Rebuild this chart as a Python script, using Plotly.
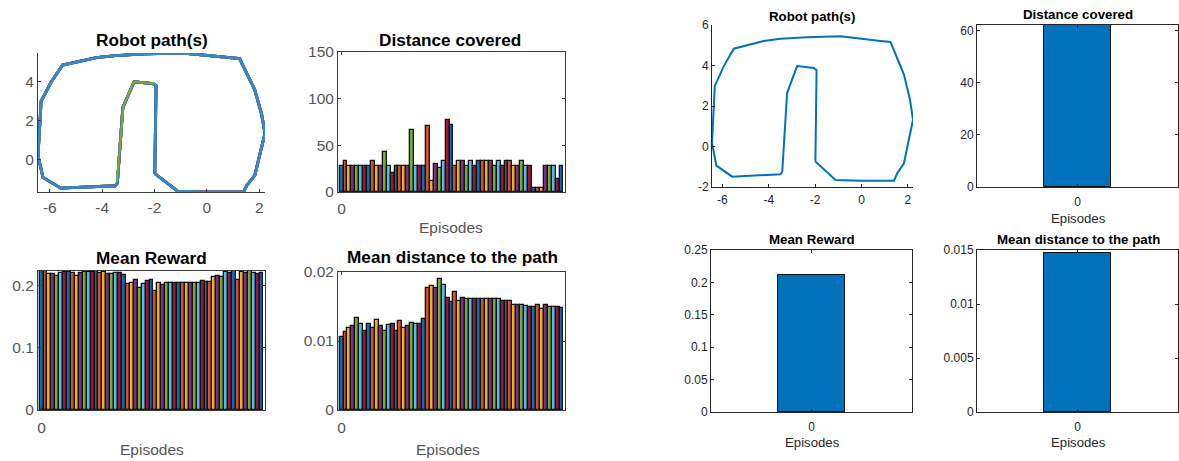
import plotly.graph_objects as go

W, H = 1179, 461
FONT = "Liberation Sans, Arial, Helvetica, sans-serif"

# MATLAB default colour order
palette = ["#0072BD", "#D95319", "#EDB120", "#7E2F8E", "#77AC30", "#4DBEEE", "#A2142F"]

# ---------------- data ----------------
path_x = [-1.99, -1.12, -0.04, 1.40, 1.54, 1.83, 2.04, 2.22, 2.09, 1.83, 1.25, 0.82, -0.91,
          -2.35, -3.50, -4.22, -5.51, -5.94, -6.33, -6.45, -6.26, -5.58, -3.50, -3.42, -3.21,
          -2.78, -2.06, -1.94, -1.99]
path_y = [-0.74, -1.65, -1.69, -1.69, -1.32, -0.83, 0.33, 1.32, 2.31, 3.55, 5.16, 5.21, 5.45,
          5.40, 5.32, 5.21, 4.83, 3.97, 2.98, 0.17, -0.94, -1.49, -1.37, -1.24, 2.64,
          3.97, 3.88, 3.77, -0.74]
# another episode's path that differs slightly along the left side of the pillar
pillar_x = [-3.44, -3.18, -2.80, -1.97]
pillar_y = [-1.12, 2.72, 3.97, 3.88]

distance_covered = [27.5, 33.6, 27.5, 27.5, 27.5, 27.5, 27.5, 27.5, 33.6, 27.5, 27.5, 43, 27.5, 20,
                    27.5, 27.5, 27.5, 27.5, 66, 27.5, 27.5, 27.5, 71, 12, 29.6, 26, 33.6, 77.5,
                    72, 27.5, 33.6, 33.6, 27.5, 33.6, 27.5, 33.6, 33.6, 33.6, 33.6, 27.5, 33.6,
                    27.5, 33.6, 33.6, 27.5, 27.5, 33.6, 27.5, 27.5, 4.6, 4, 4, 27.5, 27.5, 27.5,
                    14, 27.5]
mean_reward = [0.2235, 0.2235, 0.219, 0.219, 0.216, 0.221, 0.223, 0.223, 0.221, 0.216, 0.221,
               0.222, 0.222, 0.222, 0.224, 0.221, 0.222, 0.219, 0.219, 0.221, 0.221, 0.218,
               0.2027, 0.205, 0.209, 0.197, 0.2027, 0.2075, 0.209, 0.191, 0.205, 0.2016, 0.205,
               0.205, 0.205, 0.205, 0.205, 0.205, 0.204, 0.205, 0.205, 0.2086, 0.207, 0.207,
               0.214, 0.2166, 0.214, 0.222, 0.2204, 0.2236, 0.210, 0.222, 0.2204, 0.2236,
               0.2204, 0.2193, 0.2204]
mean_path_distance = [0.01058, 0.01126, 0.01184, 0.01223, 0.01335, 0.01248, 0.0115, 0.01252,
                      0.0119, 0.0131, 0.01214, 0.0115, 0.01228, 0.01248, 0.0114, 0.01296,
                      0.01184, 0.01223, 0.01267, 0.01248, 0.01248, 0.01316, 0.01772, 0.01791,
                      0.01772, 0.01893, 0.01811, 0.01626, 0.01563, 0.01709, 0.01587, 0.01626,
                      0.01602, 0.01602, 0.01602, 0.01602, 0.01602, 0.01602, 0.01602, 0.01602,
                      0.01602, 0.01587, 0.01587, 0.01587, 0.0152, 0.0152, 0.0152, 0.01505,
                      0.01495, 0.01495, 0.0152, 0.01471, 0.0152, 0.01495, 0.01495, 0.01495,
                      0.0148]

single_episode = [0]
single_distance = [62.3]
single_reward = [0.211]
single_path_distance = [0.0147]

episodes = list(range(len(distance_covered)))
bar_colors = [palette[i % len(palette)] for i in episodes]

path_ticks = [-6, -4, -2, 0, 2]
path_tick_text = ["-6", "-4", "-2", "0", "2"]
path_yticks_right = [-2, 0, 2, 4, 6]
path_ytick_text_right = ["-2", "0", "2", "4", "6"]
path_yticks_left = [0, 2, 4]
dist_ticks_left = [0, 50, 100, 150]
reward_ticks_left = [0, 0.1, 0.2]
pathdist_ticks_left = [0, 0.01, 0.02]
dist_ticks_right = [0, 20, 40, 60]
reward_ticks_right = [0, 0.05, 0.1, 0.15, 0.2, 0.25]
reward_text_right = ["0", "0.05", "0.1", "0.15", "0.2", "0.25"]
pathdist_ticks_right = [0, 0.005, 0.01, 0.015]
pathdist_text_right = ["0", "0.005", "0.01", "0.015"]

# ---------------- figure ----------------
fig = go.Figure()

# left figure: robot paths (several episodes overlapping)
for c in palette[1:]:
    fig.add_trace(go.Scatter(x=path_x, y=path_y, mode="lines", line=dict(color=c, width=2.8),
                             xaxis="x", yaxis="y", showlegend=False, hoverinfo="skip"))
fig.add_trace(go.Scatter(x=path_x, y=path_y, mode="lines", line=dict(color="#2f8ad0", width=2.8),
                         xaxis="x", yaxis="y", showlegend=False))
fig.add_trace(go.Scatter(x=pillar_x, y=pillar_y, mode="lines", line=dict(color="#77AC30", width=2),
                         xaxis="x", yaxis="y", showlegend=False))

bar_line = dict(color="#111111", width=1.3)
fig.add_trace(go.Bar(x=episodes, y=distance_covered, width=1,
                     marker=dict(color=bar_colors, line=bar_line),
                     xaxis="x2", yaxis="y2", showlegend=False))
fig.add_trace(go.Bar(x=episodes, y=mean_reward, width=1,
                     marker=dict(color=bar_colors, line=bar_line),
                     xaxis="x3", yaxis="y3", showlegend=False))
fig.add_trace(go.Bar(x=episodes, y=mean_path_distance, width=1,
                     marker=dict(color=bar_colors, line=bar_line),
                     xaxis="x4", yaxis="y4", showlegend=False))

# right figure
fig.add_trace(go.Scatter(x=path_x, y=path_y, mode="lines", line=dict(color="#0072BD", width=2),
                         xaxis="x5", yaxis="y5", showlegend=False))
single_line = dict(color="#111111", width=1)
fig.add_trace(go.Bar(x=single_episode, y=single_distance, width=0.8,
                     marker=dict(color="#0072BD", line=single_line),
                     xaxis="x6", yaxis="y6", showlegend=False))
fig.add_trace(go.Bar(x=single_episode, y=single_reward, width=0.8,
                     marker=dict(color="#0072BD", line=single_line),
                     xaxis="x7", yaxis="y7", showlegend=False))
fig.add_trace(go.Bar(x=single_episode, y=single_path_distance, width=0.8,
                     marker=dict(color="#0072BD", line=single_line),
                     xaxis="x8", yaxis="y8", showlegend=False))


def xd(l, r):
    return [l / W, r / W]


def yd(t, b):
    return [1 - b / H, 1 - t / H]


LCOL = "#3a3a3a"
LTXT = "#555555"
RCOL = "#262626"


def ax(domain, anchor, left_style, box, **kw):
    col = LCOL if left_style else RCOL
    d = dict(domain=domain, anchor=anchor, showline=True, linecolor=col, linewidth=1,
             mirror="ticks" if box else False, ticks="inside", ticklen=3, tickcolor=col,
             showgrid=False, zeroline=False, fixedrange=True, automargin=False,
             tickfont=dict(family=FONT, size=15.5 if left_style else 12,
                           color=LTXT if left_style else RCOL))
    d.update(kw)
    return d


N = len(episodes)
pad = 0.4
bar_range = [-0.5 - pad, N - 0.5 + pad]

layout = dict(
    template="none",
    width=W, height=H, margin=dict(l=0, r=0, t=0, b=0, pad=0, autoexpand=False),
    paper_bgcolor="white", plot_bgcolor="white", bargap=0, showlegend=False,
    font=dict(family=FONT),
    xaxis=ax(xd(38, 265), "y", True, False, range=[min(path_x), max(path_x)],
             tickvals=path_ticks, ticktext=path_tick_text, ticklabelstandoff=1),
    yaxis=ax(yd(53, 192), "x", True, False, range=[min(path_y), max(path_y)],
             tickvals=path_yticks_left),
    xaxis2=ax(xd(338, 565), "y2", True, True, range=bar_range, tickvals=[0],
              ticklabelstandoff=2),
    yaxis2=ax(yd(52, 192), "x2", True, True, range=[0, 150], tickvals=dist_ticks_left),
    xaxis3=ax(xd(38, 265), "y3", True, True, range=bar_range, tickvals=[0],
              ticklabelstandoff=3),
    yaxis3=ax(yd(271, 410), "x3", True, True, range=[0, max(mean_reward)],
              tickvals=reward_ticks_left),
    xaxis4=ax(xd(338, 565), "y4", True, True, range=bar_range, tickvals=[0],
              ticklabelstandoff=3),
    yaxis4=ax(yd(272, 410), "x4", True, True, range=[0, 0.02], tickvals=pathdist_ticks_left),
    xaxis5=ax(xd(712, 913), "y5", False, False, range=[min(path_x), max(path_x)],
              tickvals=path_ticks, ticktext=path_tick_text, ticklabelstandoff=2),
    yaxis5=ax(yd(25, 187), "x5", False, False, range=[-2, 6],
              tickvals=path_yticks_right, ticktext=path_ytick_text_right),
    xaxis6=ax(xd(977, 1178), "y6", False, True, range=[-1.2, 1.2], tickvals=single_episode,
              ticklabelstandoff=4),
    yaxis6=ax(yd(25, 187), "x6", False, True, range=[0, max(single_distance)],
              tickvals=dist_ticks_right),
    xaxis7=ax(xd(711, 912), "y7", False, True, range=[-1.2, 1.2], tickvals=single_episode,
              ticklabelstandoff=4),
    yaxis7=ax(yd(250, 412), "x7", False, True, range=[0, 0.25],
              tickvals=reward_ticks_right, ticktext=reward_text_right),
    xaxis8=ax(xd(977, 1178), "y8", False, True, range=[-1.2, 1.2], tickvals=single_episode,
              ticklabelstandoff=4),
    yaxis8=ax(yd(250, 412), "x8", False, True, range=[0, 0.015],
              tickvals=pathdist_ticks_right, ticktext=pathdist_text_right),
)
fig.update_layout(**layout)


def note(text, x, y, size, bold=False, color="black"):
    fig.add_annotation(text=f"<b>{text}</b>" if bold else text, x=x / W, y=1 - y / H,
                       xref="paper", yref="paper", showarrow=False, xanchor="center",
                       yanchor="middle", font=dict(family=FONT, size=size, color=color))


# left figure titles / labels
note("Robot path(s)", 152, 40, 17.2, True)
note("Distance covered", 450, 40, 17.2, True)
note("Mean Reward", 152, 258, 17.2, True)
note("Mean distance to the path", 452, 257, 17.2, True)
note("Episodes", 451, 227, 15.5, color=LTXT)
note("Episodes", 152, 449, 15.5, color=LTXT)
note("Episodes", 448, 449, 15.5, color=LTXT)

# right figure titles / labels
note("Robot path(s)", 812, 16, 13.3, True)
note("Distance covered", 1078, 15, 13.3, True)
note("Mean Reward", 812, 239, 13.3, True)
note("Mean distance to the path", 1078, 240, 13.3, True)
note("Episodes", 1078, 218, 13.2, color=RCOL)
note("Episodes", 812, 442, 13.2, color=RCOL)
note("Episodes", 1078, 442, 13.2, color=RCOL)

fig.write_html("out.html")
